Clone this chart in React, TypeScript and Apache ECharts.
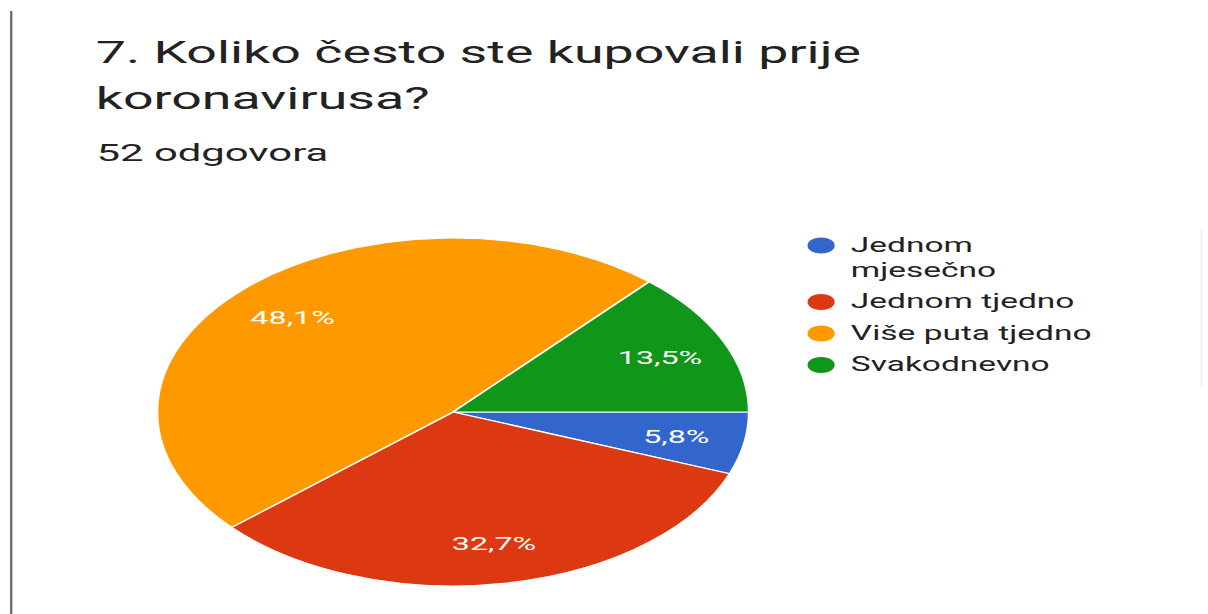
import React, { useEffect, useRef } from 'react';
import * as echarts from 'echarts';

const categories = ['Jednom mjesečno', 'Jednom tjedno', 'Više puta tjedno', 'Svakodnevno'];
const counts = [3, 17, 25, 7];
const colors = ['#3366cc', '#dc3912', '#ff9900', '#109618'];
const titleText = '7. Koliko često ste kupovali prije\nkoronavirusa?';
const subtitleText = '52 odgovora';

const SX = 1.7;
const W = 1208;
const H = 614;
const IW = W / SX;

export default function App() {
  const ref = useRef<HTMLDivElement>(null);
  useEffect(() => {
    document.body.style.margin = '0';
    const chart = echarts.init(ref.current as HTMLDivElement, null, { renderer: 'svg' });
    const total = counts.reduce((a, b) => a + b, 0);
    const data = categories.map((name, i) => ({ name, value: counts[i] }));
    const fmtPct = (v: number) => (v / total * 100).toFixed(1).replace('.', ',') + '%';
    chart.setOption({
      animation: false,
      color: colors,
      textStyle: { fontFamily: 'Roboto' },
      title: [
        {
          text: titleText, left: 56.3, top: 29, padding: 0,
          textStyle: { fontSize: 31.6, lineHeight: 46, fontWeight: 'normal', color: '#222', fontFamily: 'Roboto' },
        },
        {
          text: subtitleText, left: 56.8, top: 137, padding: 0,
          textStyle: { fontSize: 24.6, lineHeight: 30, fontWeight: 'normal', color: '#222', fontFamily: 'Roboto' },
        },
      ],
      legend: {
        orient: 'vertical', left: 473, top: 208, padding: 0, itemGap: 6.5,
        itemWidth: 25, itemHeight: 18, icon: 'circle',
        formatter: (n: string) => (n === categories[0] ? '\n' + n.replace(' ', '\n') : n),
        textStyle: { fontSize: 19.7, lineHeight: 25, color: '#222', fontFamily: 'Roboto' },
        data: categories,
        selectedMode: false,
      },
      series: [
        {
          type: 'pie', center: [266.5, 412], radius: 174, startAngle: 0, clockwise: true,
          data, label: { show: false }, labelLine: { show: false },
          itemStyle: { borderColor: '#fff', borderWidth: 1.2 },
          emphasis: { disabled: true }, silent: true,
        },
        {
          type: 'pie', center: [266.5, 412], radius: [87, 174], startAngle: 0, clockwise: true,
          data, itemStyle: { color: 'transparent', borderWidth: 0 },
          label: {
            show: true, position: 'inside', formatter: (p: any) => fmtPct(p.value),
            color: '#fff', fontSize: 19, fontFamily: 'Roboto',
          },
          labelLine: { show: false }, emphasis: { disabled: true }, silent: true,
        },
      ],
      graphic: [
        { type: 'line', shape: { x1: 6.6, y1: 11, x2: 6.6, y2: H }, style: { stroke: '#666', lineWidth: 1.3 } },
        { type: 'line', shape: { x1: 706.8, y1: 230, x2: 706.8, y2: 387 }, style: { stroke: '#eeeeee', lineWidth: 1 } },
      ],
    });
    return () => chart.dispose();
  }, []);
  return (
    <div style={{ position: 'fixed', left: 0, top: 0, width: W, height: H, overflow: 'hidden', background: '#fff' }}>
      <div ref={ref} style={{ width: IW, height: H, transform: `scaleX(${SX})`, transformOrigin: '0 0' }} />
    </div>
  );
}
